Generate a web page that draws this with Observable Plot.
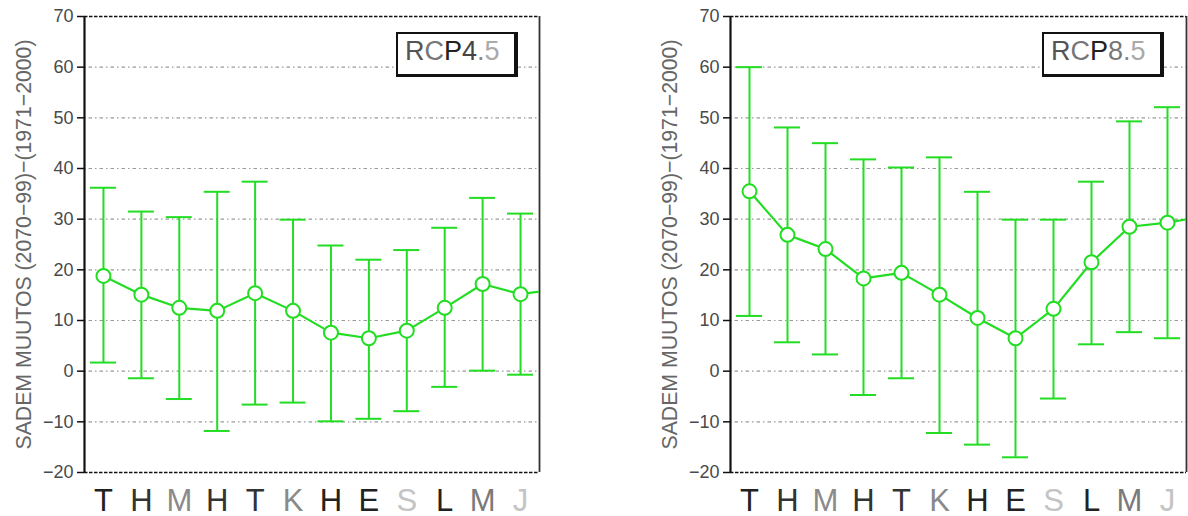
<!DOCTYPE html>
<html>
<head>
<meta charset="utf-8">
<script src="https://cdn.jsdelivr.net/npm/d3@7"></script>
<script src="https://cdn.jsdelivr.net/npm/@observablehq/plot@0.6"></script>
<style>
  html, body { margin: 0; padding: 0; background: white; }
  #wrap { position: relative; width: 1188px; height: 516px; display: flex; font-family: "Liberation Sans", Arial, sans-serif; }
  .legend { position: absolute; top: 32px; width: 122px; height: 45px; box-sizing: border-box;
    border-style: solid; border-color: #111; border-width: 2px 4px 3px 2px; background: white; }
  .legend span.t { position: absolute; left: 7px; top: 4px; font-size: 27px; line-height: 27px; white-space: nowrap; }
</style>
</head>
<body>
<div id="wrap"></div>
<script>
// ---- data ----
const months = ["T","H","M","H","T","K","H","E","S","L","M","J"];
const monthColors = ["#222","#333","#8a8a8a","#333","#333","#8a8a8a","#222","#222","#c4c4c4","#222","#7a7a7a","#c4c4c4"];
const yTicks = [-20,-10,0,10,20,30,40,50,60,70];
const gridTicks = [-10,0,10,20,30,40,50,60];
const yDomain = [-20, 70];
const xDomain = [0.5, 12.5];
const yTitle = "SADEM MUUTOS (2070−99)−(1971−2000)";

const rcp45Mean = [18.8,15.1,12.5,11.9,15.4,11.9,7.6,6.5,8.0,12.5,17.2,15.2];
const rcp45Hi   = [36.2,31.5,30.4,35.4,37.4,29.9,24.8,22.0,23.9,28.3,34.2,31.1];
const rcp45Lo   = [1.7,-1.4,-5.5,-11.8,-6.6,-6.2,-9.9,-9.4,-7.9,-3.1,0.1,-0.7];
const rcp45Next = 16.2;

const rcp85Mean = [35.5,26.9,24.1,18.3,19.4,15.1,10.5,6.5,12.3,21.5,28.5,29.3];
const rcp85Hi   = [60.0,48.1,45.0,41.8,40.2,42.2,35.4,29.9,29.9,37.4,49.3,52.1];
const rcp85Lo   = [10.9,5.7,3.3,-4.7,-1.4,-12.2,-14.5,-17.0,-5.4,5.3,7.7,6.5];
const rcp85Next = 30.7;

const green = "#22dd22";
const capHalf = 13 / 38;

function panel(mean, hi, lo, next, marginLeft, marginRight) {
  const data = months.map((m, i) => ({i: i + 1, mean: mean[i], hi: hi[i], lo: lo[i]}));
  const lineData = data.map(d => ({i: d.i, v: d.mean})).concat([{i: 13, v: next}]);
  const svg = Plot.plot({
    width: 594, height: 516,
    marginLeft, marginRight, marginTop: 16, marginBottom: 44,
    x: {domain: xDomain, axis: null},
    y: {domain: yDomain, axis: null},
    color: {type: "identity"},
    style: {fontFamily: "'Liberation Sans', Arial, sans-serif", background: "white", overflow: "visible"},
    marks: [
      Plot.ruleY(gridTicks, {stroke: "#9a9a9a", strokeWidth: 1.2, strokeDasharray: "1.5,3,3.5,3"}),
      Plot.ruleY(yDomain, {stroke: "#111", strokeWidth: 1.5, strokeDasharray: "3.5,1.5"}),
      Plot.ruleX([xDomain[1]], {stroke: "#333", strokeWidth: 1.8}),
      Plot.ruleX([xDomain[0]], {stroke: "#111", strokeWidth: 2.2}),
      Plot.axisY(yTicks, {tickSize: 7, tickPadding: 4, fontSize: 18, fill: "#4a4a4a", stroke: "#111", strokeWidth: 1.5,
        label: yTitle, labelAnchor: "center", labelArrow: "none", labelOffset: 69}),
      Plot.axisX(d3.range(1, 13), {tickSize: 0, tickPadding: 16, fontSize: 31,
        tickFormat: i => months[i - 1], fill: i => monthColors[i - 1], label: null}),
      Plot.ruleX(data, {x: "i", y1: "lo", y2: "hi", stroke: green, strokeWidth: 2}),
      Plot.ruleY(data, {y: "hi", x1: d => d.i - capHalf, x2: d => d.i + capHalf, stroke: green, strokeWidth: 2}),
      Plot.ruleY(data, {y: "lo", x1: d => d.i - capHalf, x2: d => d.i + capHalf, stroke: green, strokeWidth: 2}),
      Plot.line(lineData, {x: "i", y: "v", stroke: green, strokeWidth: 2.2, clip: true}),
      Plot.dot(data, {x: "i", y: "mean", r: 7, fill: "white", stroke: green, strokeWidth: 2})
    ]
  });
  const lab = d3.select(svg).selectAll('g[aria-label="y-axis label"] text');
  lab.attr("font-size", 22).attr("fill", "#666").attr("textLength", 410).attr("lengthAdjust", "spacingAndGlyphs");
  return svg;
}

const wrap = document.getElementById("wrap");
wrap.appendChild(panel(rcp45Mean, rcp45Hi, rcp45Lo, rcp45Next, 84, 55));
wrap.appendChild(panel(rcp85Mean, rcp85Hi, rcp85Lo, rcp85Next, 136, 2));

function legend(left, chars, colors) {
  const div = document.createElement("div");
  div.className = "legend";
  div.style.left = left + "px";
  const t = document.createElement("span");
  t.className = "t";
  chars.forEach((c, k) => {
    const s = document.createElement("span");
    s.textContent = c;
    s.style.color = colors[k];
    t.appendChild(s);
  });
  div.appendChild(t);
  wrap.appendChild(div);
}
legend(396, ["R","C","P","4",".","5"], ["#555","#777","#222","#444","#888","#aaa"]);
legend(1042, ["R","C","P","8",".","5"], ["#555","#777","#222","#777","#888","#aaa"]);
</script>
</body>
</html>
